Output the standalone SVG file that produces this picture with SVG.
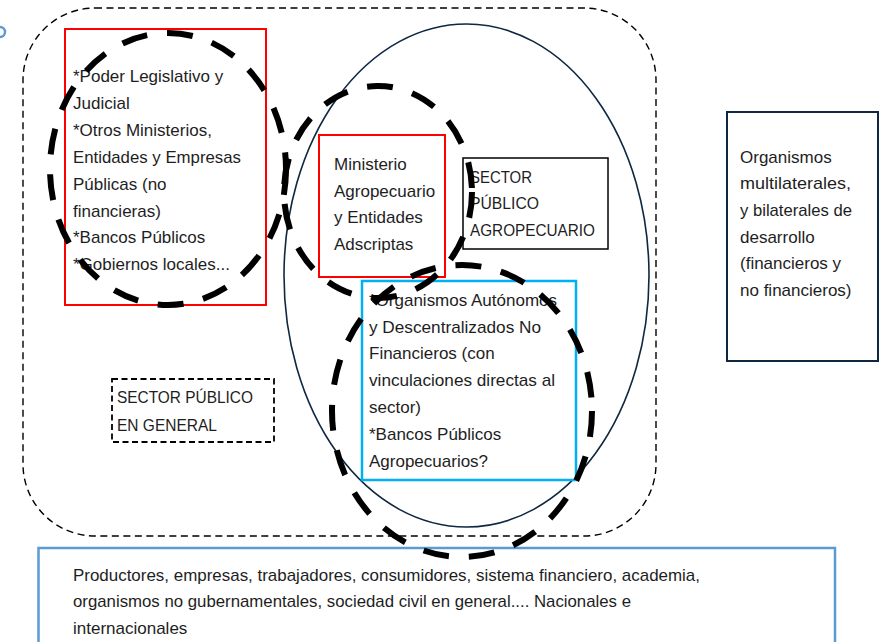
<svg xmlns="http://www.w3.org/2000/svg" width="889" height="642" viewBox="0 0 889 642">
<style>
text{font-family:"Liberation Sans",Arial,sans-serif;font-size:17px;fill:#1e1e1e}
.thick{fill:none;stroke:#000;stroke-width:6;stroke-dasharray:26 20}
.red{fill:#fff;stroke:#ff0000;stroke-width:2}
</style>
<rect width="889" height="642" fill="#fff"/>
<path d="M0,27 A5,5 0 0 1 0,37" fill="none" stroke="#5b9bd5" stroke-width="2.5"/>
<g id="sector-publico-general-area">
<rect x="23" y="8" width="633" height="528" rx="72" ry="72" fill="none" stroke="#000" stroke-width="1.4" stroke-dasharray="7 4.5"/>
</g>
<g id="sector-agro-ellipse">
<ellipse cx="466.5" cy="275.5" rx="182.5" ry="251.5" fill="none" stroke="#0e2841" stroke-width="1.6"/>
</g>
<g id="otros-publicos">
<rect class="red" x="65" y="29" width="201" height="276"/>
<text x="73" y="82">*Poder Legislativo y</text>
<text x="73" y="109">Judicial</text>
<text x="73" y="136">*Otros Ministerios,</text>
<text x="73" y="163" textLength="168" lengthAdjust="spacingAndGlyphs">Entidades y  Empresas</text>
<text x="73" y="190">Públicas (no</text>
<text x="73" y="217">financieras)</text>
<text x="73" y="243">*Bancos Públicos</text>
<text x="73" y="270">*Gobiernos locales...</text>
</g>
<g id="ministerio">
<rect class="red" x="319" y="135" width="126" height="142"/>
<text x="334" y="170">Ministerio</text>
<text x="334" y="197">Agropecuario</text>
<text x="334" y="223">y Entidades</text>
<text x="334" y="250">Adscriptas</text>
</g>
<g id="label-sector-agro">
<rect x="463" y="158" width="145" height="91" fill="#fff" stroke="#000" stroke-width="1.5"/>
<text x="470" y="183" textLength="62" lengthAdjust="spacingAndGlyphs">SECTOR</text>
<text x="470" y="209" textLength="69" lengthAdjust="spacingAndGlyphs">PÚBLICO</text>
<text x="470" y="236" textLength="125" lengthAdjust="spacingAndGlyphs">AGROPECUARIO</text>
</g>
<g id="organismos-autonomos">
<rect x="362" y="281" width="214" height="199" fill="#fff" stroke="#00b0f0" stroke-width="2.5"/>
<text x="369" y="306" textLength="188" lengthAdjust="spacingAndGlyphs">*Organismos Autónomos</text>
<text x="369" y="333" textLength="172" lengthAdjust="spacingAndGlyphs">y  Descentralizados No</text>
<text x="369" y="359">Financieros (con</text>
<text x="369" y="386" textLength="186" lengthAdjust="spacingAndGlyphs">vinculaciones directas al</text>
<text x="369" y="413">sector)</text>
<text x="369" y="440">*Bancos Públicos</text>
<text x="369" y="467">Agropecuarios?</text>
</g>
<g id="label-sector-general">
<rect x="112" y="379" width="162" height="63" fill="none" stroke="#000" stroke-width="1.8" stroke-dasharray="6 3.5"/>
<text x="117" y="403" textLength="136" lengthAdjust="spacingAndGlyphs">SECTOR PÚBLICO</text>
<text x="117" y="431" textLength="100" lengthAdjust="spacingAndGlyphs">EN GENERAL</text>
</g>
<g id="organismos-multilaterales">
<rect x="727" y="112" width="151" height="249" fill="none" stroke="#0e2841" stroke-width="2"/>
<text x="740" y="163">Organismos</text>
<text x="740" y="189" textLength="111" lengthAdjust="spacingAndGlyphs">multilaterales,</text>
<text x="740" y="216" textLength="112" lengthAdjust="spacingAndGlyphs">y bilaterales de</text>
<text x="740" y="243">desarrollo</text>
<text x="740" y="269">(financieros y</text>
<text x="740" y="296">no financieros)</text>
</g>
<g id="sociedad">
<rect x="38.5" y="548" width="796.5" height="110" fill="#fff" stroke="#5b9bd5" stroke-width="2.5"/>
<text x="73" y="581" textLength="627" lengthAdjust="spacingAndGlyphs">Productores, empresas, trabajadores, consumidores, sistema financiero, academia,</text>
<text x="73" y="607" textLength="558" lengthAdjust="spacingAndGlyphs">organismos no gubernamentales, sociedad civil en general.... Nacionales e</text>
<text x="73" y="634">internacionales</text>
</g>
<g id="dashed-circles">
<ellipse class="thick" cx="168" cy="169" rx="118" ry="136"/>
<ellipse class="thick" cx="378" cy="192" rx="94" ry="106"/>
<ellipse class="thick" cx="462" cy="411" rx="130" ry="146"/>
</g>
</svg>
